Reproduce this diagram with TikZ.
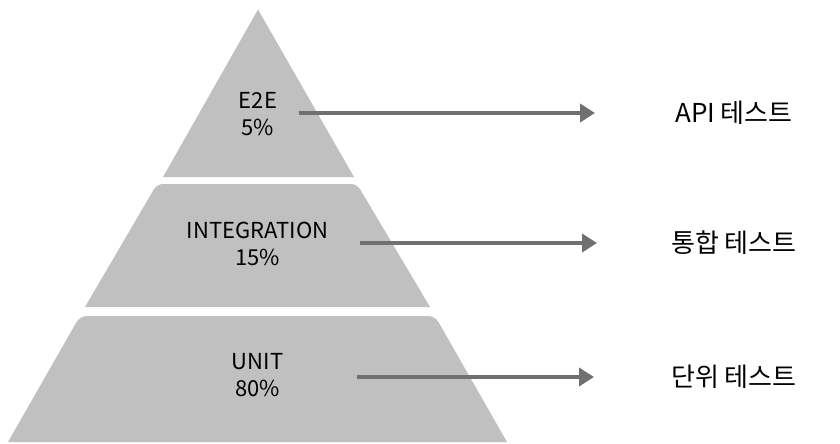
\documentclass[tikz,border=0pt]{standalone}
\usepackage{fontspec}
\setmainfont{Noto Sans CJK KR}
\usetikzlibrary{arrows.meta}
\definecolor{layer}{HTML}{C0C0C0}
\definecolor{arrowgray}{HTML}{707070}
\tikzset{
  layerfill/.style={fill=layer},
  lvltext/.style={align=center, text=black, font=\fontsize{22}{26.5}\selectfont, inner sep=0pt},
  sidetext/.style={text=black, font=\fontsize{26}{30}\selectfont, inner sep=0pt},
  pointer/.style={draw=arrowgray, line width=4pt, -{Triangle[length=15pt,width=18pt]}}
}
\begin{document}
\begin{tikzpicture}[x=1pt,y=-1pt]
\useasboundingbox (0,0) rectangle (840,444);
% layers
\fill[layerfill] (258,9.5) -- (354,177) -- (163,177) -- cycle;
\fill[layerfill] (85,307) [rounded corners=6pt] -- (157,184) -- (357,184) [sharp corners] -- (430,307) -- cycle;
\fill[layerfill] (8,442) [rounded corners=7pt] -- (80,316) -- (435,316) [sharp corners] -- (507,442) -- cycle;
% level labels
\node[lvltext] (e2e) at (258,114) {E2E\\5\%};
\node[lvltext] (integ) at (257.5,244) {INTEGRATION\\15\%};
\node[lvltext] (unit) at (257.5,375) {UNIT\\80\%};
% side labels
\node[sidetext] (api) at (734,113) {API 테스트};
\node[sidetext] (tonghap) at (734,243) {통합 테스트};
\node[sidetext] (danwi) at (734,377) {단위 테스트};
% arrow ends
\coordinate (a1s) at (299,113);
\coordinate (a1e) at (595,113);
\coordinate (a2s) at (360,243);
\coordinate (a2e) at (597,243);
\coordinate (a3s) at (357,377);
\coordinate (a3e) at (594,377);
\draw[pointer] (a1s) -- (a1e);
\draw[pointer] (a2s) -- (a2e);
\draw[pointer] (a3s) -- (a3e);
\end{tikzpicture}
\end{document}
